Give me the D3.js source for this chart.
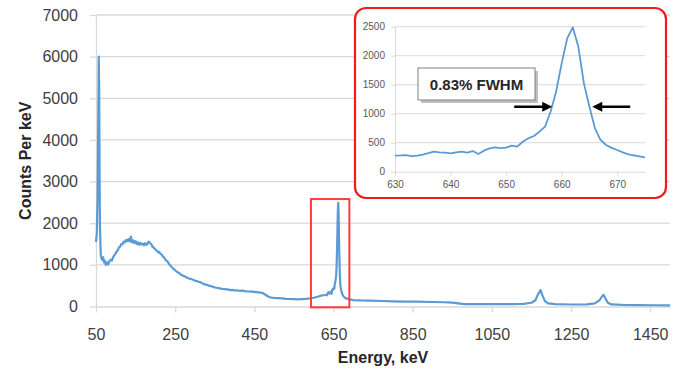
<!DOCTYPE html>
<html>
<head>
<meta charset="utf-8">
<script src="https://cdn.jsdelivr.net/npm/d3@7"></script>
<style>
  body { margin: 0; background: #fff; }
  svg { display: block; font-family: "Liberation Sans", Arial, sans-serif; }
</style>
</head>
<body>
<div id="chart"></div>
<script>
// Cs-137 spectrum
var energy = [50, 52, 54, 56, 57, 58, 59, 60, 62, 64,
  66, 68, 70, 72, 75, 78, 81, 84, 87, 90, 93, 96, 99, 102, 105, 108, 111, 114, 117, 120,
  123, 126, 129, 132, 135, 138, 141, 144, 147, 150, 153, 156, 159, 162, 165, 168, 171, 174, 177, 180,
  183, 186, 189, 192, 195, 198, 201, 204, 207, 210, 213, 216, 219, 222, 225, 228, 231, 234, 237, 240,
  243, 246, 249, 252, 255, 258, 261, 265, 270, 275, 280, 285, 290, 295, 300, 305, 310, 315, 320, 325,
  330, 335, 340, 345, 350, 355, 360, 365, 370, 375, 380, 385, 390, 395, 400, 405, 410, 415, 420, 425,
  430, 435, 440, 445, 450, 455, 460, 465, 470, 475, 480, 485, 490, 495, 500, 510, 520, 530, 540, 550,
  560, 570, 580, 590, 600, 610, 620];
var counts = [1550, 1750, 2600, 4800, 6000, 5200, 3200, 1900, 1250, 1150,
  1120, 1180, 1060, 1100, 1000, 1060, 1010, 1090, 1120, 1100, 1180, 1230, 1260, 1320, 1350, 1420, 1440, 1500, 1490, 1560,
  1540, 1600, 1570, 1620, 1560, 1680, 1540, 1590, 1520, 1570, 1500, 1540, 1480, 1530, 1490, 1510, 1470, 1520, 1480, 1500,
  1560, 1530, 1500, 1450, 1420, 1390, 1360, 1340, 1300, 1310, 1260, 1250, 1200, 1180, 1130, 1100, 1080, 1030, 990, 960,
  930, 900, 880, 850, 830, 810, 800, 760, 740, 720, 690, 670, 660, 640, 620, 610, 590, 580, 550, 530,
  520, 500, 490, 475, 460, 450, 440, 430, 420, 415, 410, 405, 395, 400, 385, 390, 380, 375, 385, 370,
  365, 360, 358, 355, 350, 345, 340, 335, 330, 300, 270, 240, 220, 210, 205, 200, 195, 185, 180, 175,
  172, 178, 185, 195, 210, 235, 265];

// photopeak region, 1 keV steps (also the inset)
var peakEnergy = [630, 631, 632, 633, 634, 635, 636, 637, 638, 639, 640, 641, 642, 643, 644, 645, 646, 647, 648, 649,
  650, 651, 652, 653, 654, 655, 656, 657, 658, 659, 660, 661, 662, 663, 664, 665, 666, 667, 668, 669,
  670, 671, 672, 673, 674, 675];
var peakCounts = [276, 280, 287, 270, 276, 293, 320, 345, 333, 330, 316, 333, 345, 328, 356, 305, 362, 402, 420, 408,
  414, 448, 431, 517, 575, 615, 690, 776, 1034, 1379, 1868, 2299, 2489, 2155, 1523, 1121, 747, 546, 460, 410,
  374, 333, 299, 282, 265, 247];

// Compton edge and Co-60 lines
var tailEnergy = [680, 690, 700, 720, 740, 775, 800, 830, 860, 900, 930, 950, 965, 980, 1000, 1050, 1100, 1130, 1150, 1160,
  1166, 1173, 1178, 1184, 1192, 1210, 1250, 1290, 1310, 1322, 1328, 1332, 1337, 1343, 1352, 1380, 1420, 1460, 1500];
var tailCounts = [200, 170, 155, 145, 140, 132, 125, 118, 115, 108, 102, 95, 75, 58, 55, 55, 58, 65, 90, 150,
  280, 395, 260, 130, 75, 55, 48, 52, 75, 150, 240, 280, 190, 90, 50, 38, 32, 30, 28];

var xTicks = [50, 250, 450, 650, 850, 1050, 1250, 1450],
  yTicks = [0, 1000, 2000, 3000, 4000, 5000, 6000, 7000],
  insetXTicks = [630, 640, 650, 660, 670],
  insetYTicks = [0, 500, 1000, 1500, 2000, 2500];

var zoomE = [593, 690], zoomC = [-20, 2580];
var fwhm = [658.3, 665.5], fwhmLevel = 1120;

var lineColor = "#5b9bd5", gridColor = "#d9d9d9", textColor = "#404040";
var fmt = d3.format("d");

var spectrum = [];
energy.forEach(function(e, i) { spectrum.push([e, counts[i]]); });
peakEnergy.forEach(function(e, i) { spectrum.push([e, peakCounts[i]]); });
tailEnergy.forEach(function(e, i) { spectrum.push([e, tailCounts[i]]); });
var peak = peakEnergy.map(function(e, i) { return [e, peakCounts[i]]; });

var svg = d3.select("#chart").append("svg")
  .attr("width", 682)
  .attr("height", 369);

// MAIN CHART
var x = d3.scaleLinear().domain([50, 1500]).range([96, 670]),
  y = d3.scaleLinear().domain([0, 7000]).range([306.5, 15]);

svg.append("g").selectAll("line")
  .data(yTicks.slice(1))
  .enter().append("line")
  .attr("x1", x(50)).attr("x2", x(1500))
  .attr("y1", function(d) { return y(d); })
  .attr("y2", function(d) { return y(d); })
  .attr("stroke", gridColor)
  .attr("stroke-width", 1.3);

var yAxis = svg.append("g")
  .attr("transform", "translate(" + x(50) + ",0)")
  .call(d3.axisLeft(y).tickValues(yTicks).tickFormat(fmt).tickSize(6).tickSizeOuter(0).tickPadding(12));

var xAxis = svg.append("g")
  .attr("transform", "translate(0," + y(0) + ")")
  .call(d3.axisBottom(x).tickValues(xTicks).tickFormat(fmt).tickSize(6).tickSizeOuter(0).tickPadding(16));

[yAxis, xAxis].forEach(function(a) {
  a.select(".domain").attr("stroke", gridColor).attr("stroke-width", 1.3);
  a.selectAll(".tick line").attr("stroke", gridColor).attr("stroke-width", 1.3);
  a.selectAll("text")
    .attr("fill", textColor)
    .style("font-size", "16px")
    .style("font-family", "'Liberation Sans', Arial, sans-serif");
});

var line = d3.line()
  .x(function(d) { return x(d[0]); })
  .y(function(d) { return y(d[1]); });

svg.append("path")
  .datum(spectrum)
  .attr("d", line)
  .attr("fill", "none")
  .attr("stroke", lineColor)
  .attr("stroke-width", 2.2)
  .attr("stroke-linejoin", "round");

// zoom box
svg.append("rect")
  .attr("x", x(zoomE[0]))
  .attr("y", y(zoomC[1]))
  .attr("width", x(zoomE[1]) - x(zoomE[0]))
  .attr("height", y(zoomC[0]) - y(zoomC[1]))
  .attr("fill", "none")
  .attr("stroke", "#ff3b3b")
  .attr("stroke-width", 2);

// axis titles
svg.append("text")
  .attr("x", (x(50) + x(1500)) / 2)
  .attr("y", 363)
  .attr("text-anchor", "middle")
  .attr("font-weight", "bold")
  .attr("font-size", 16)
  .attr("fill", "#262626")
  .text("Energy, keV");

svg.append("text")
  .attr("transform", "translate(31," + (y(3500)) + ") rotate(-90)")
  .attr("text-anchor", "middle")
  .attr("font-weight", "bold")
  .attr("font-size", 16)
  .attr("fill", "#262626")
  .text("Counts Per keV");

// INSET
svg.append("rect")
  .attr("x", 355).attr("y", 8)
  .attr("width", 311).attr("height", 190)
  .attr("rx", 11)
  .attr("fill", "#fff")
  .attr("stroke", "#ee1c1c")
  .attr("stroke-width", 2.2);

var xi = d3.scaleLinear().domain([630, 675]).range([395, 645]),
  yi = d3.scaleLinear().domain([0, 2500]).range([171.7, 26.7]);

svg.append("g").selectAll("line")
  .data(insetYTicks.slice(1))
  .enter().append("line")
  .attr("x1", xi(630)).attr("x2", xi(675))
  .attr("y1", function(d) { return yi(d); })
  .attr("y2", function(d) { return yi(d); })
  .attr("stroke", gridColor);

var yAxisI = svg.append("g")
  .attr("transform", "translate(" + xi(630) + ",0)")
  .call(d3.axisLeft(yi).tickValues(insetYTicks).tickFormat(fmt).tickSize(4).tickSizeOuter(0).tickPadding(6));

var xAxisI = svg.append("g")
  .attr("transform", "translate(0," + yi(0) + ")")
  .call(d3.axisBottom(xi).tickValues(insetXTicks).tickFormat(fmt).tickSize(4).tickSizeOuter(0).tickPadding(5));

[yAxisI, xAxisI].forEach(function(a) {
  a.select(".domain").attr("stroke", gridColor);
  a.selectAll(".tick line").attr("stroke", gridColor);
  a.selectAll("text")
    .attr("fill", "#595959")
    .style("font-size", "10px")
    .style("font-family", "'Liberation Sans', Arial, sans-serif");
});

var lineI = d3.line()
  .x(function(d) { return xi(d[0]); })
  .y(function(d) { return yi(d[1]); });

svg.append("path")
  .datum(peak)
  .attr("d", lineI)
  .attr("fill", "none")
  .attr("stroke", lineColor)
  .attr("stroke-width", 1.8)
  .attr("stroke-linejoin", "round");

// FWHM arrows
var ay = yi(fwhmLevel);
function arrow(tipX, dir) {
  var g = svg.append("g");
  g.append("line")
    .attr("x1", tipX - dir * 38).attr("x2", tipX - dir * 6)
    .attr("y1", ay).attr("y2", ay)
    .attr("stroke", "#000")
    .attr("stroke-width", 2.5);
  g.append("path")
    .attr("d", "M" + tipX + "," + ay + " L" + (tipX - dir * 10) + "," + (ay - 5) +
      " L" + (tipX - dir * 10) + "," + (ay + 5) + " Z")
    .attr("fill", "#000");
}
arrow(xi(fwhm[0]), 1);
arrow(xi(fwhm[1]), -1);

// label box
svg.append("rect")
  .attr("x", 421).attr("y", 71)
  .attr("width", 117).attr("height", 32)
  .attr("fill", "#bfbfbf");
svg.append("rect")
  .attr("x", 418).attr("y", 68)
  .attr("width", 117).attr("height", 32)
  .attr("fill", "#fff")
  .attr("stroke", "#7f7f7f")
  .attr("stroke-width", 1);
svg.append("text")
  .attr("x", 476.5).attr("y", 89.5)
  .attr("text-anchor", "middle")
  .attr("font-weight", "bold")
  .attr("font-size", 15)
  .attr("fill", "#262626")
  .text("0.83% FWHM");
</script>
</body>
</html>
